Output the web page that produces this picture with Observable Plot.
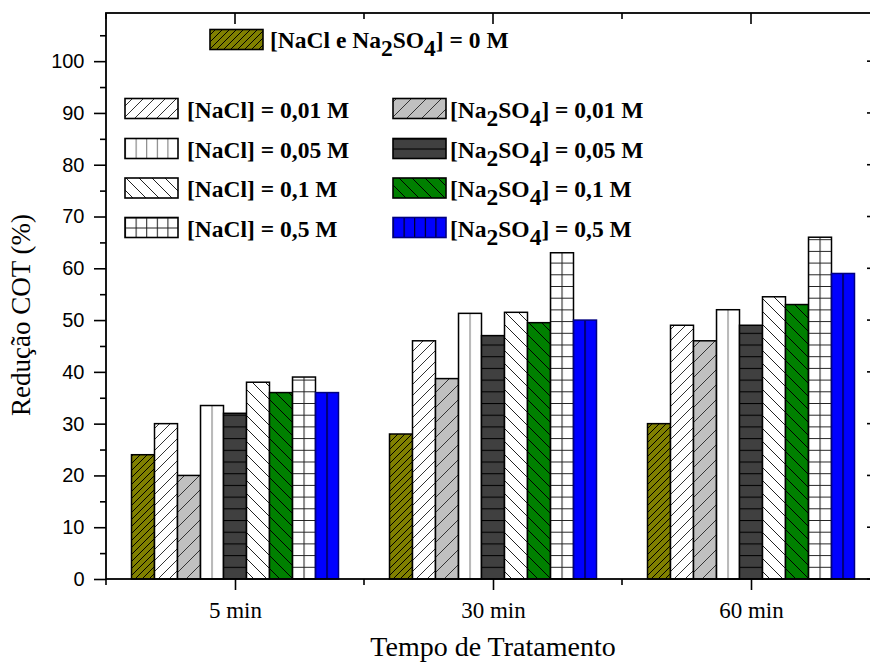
<!DOCTYPE html>
<html><head><meta charset="utf-8">
<script src="https://cdn.jsdelivr.net/npm/d3@7"></script>
<script src="https://cdn.jsdelivr.net/npm/@observablehq/plot@0.6"></script>
<style>html,body{margin:0;padding:0;background:#fff;overflow:hidden;width:870px;height:665px}
#chart svg{display:block}</style>
</head><body><div id="chart"></div>
<script>
// ---- data ----
const times = ["5 min", "30 min", "60 min"];
const seriesKeys = ["zero", "NaCl 0,01", "Na2SO4 0,01", "NaCl 0,05", "Na2SO4 0,05", "NaCl 0,1", "Na2SO4 0,1", "NaCl 0,5", "Na2SO4 0,5"];
const vZero       = [24, 28, 30];
const vNaCl001    = [30, 46, 49];
const vNa2SO4001  = [20, 38.7, 46];
const vNaCl005    = [33.5, 51.3, 52];
const vNa2SO4005  = [32, 47, 49];
const vNaCl01     = [38, 51.5, 54.5];
const vNa2SO401   = [36, 49.5, 53];
const vNaCl05     = [39, 63, 66];
const vNa2SO405   = [36, 50, 59];
const seriesValues = [vZero, vNaCl001, vNa2SO4001, vNaCl005, vNa2SO4005, vNaCl01, vNa2SO401, vNaCl05, vNa2SO405];
const legendLabels = ["[NaCl e Na_2SO_4] = 0 M", "[NaCl] = 0,01 M", "[Na_2SO_4] = 0,01 M", "[NaCl] = 0,05 M", "[Na_2SO_4] = 0,05 M", "[NaCl] = 0,1 M", "[Na_2SO_4] = 0,1 M", "[NaCl] = 0,5 M", "[Na_2SO_4] = 0,5 M"];
const yTicks = [0, 10, 20, 30, 40, 50, 60, 70, 80, 90, 100];
const yMinorTicks = [5, 15, 25, 35, 45, 55, 65, 75, 85, 95, 105];
const yMax = 109.3;
const xTitle = "Tempo de Tratamento";
const yTitle = "Redução COT (%)";

// ---- styles ----
const patStyles = [
  {bg: "#808000", type: "diagF", s: 7, line: "#000"},
  {bg: "#ffffff", type: "diagF", s: 11, line: "#333"},
  {bg: "#c0c0c0", type: "diagF", s: 15, line: "#333"},
  {bg: "#ffffff", type: "vert", line: "#777"},
  {bg: "#404040", type: "horiz", line: "#000"},
  {bg: "#ffffff", type: "diagB", s: 13, line: "#222"},
  {bg: "#008000", type: "diagB", s: 13, line: "#000"},
  {bg: "#ffffff", type: "grid", line: "#222"},
  {bg: "#0000ff", type: "vert", line: "#000"}
];
const strokes = ["#000", "#000", "#000", "#000", "#000", "#000", "#000", "#000", "#000080"];

const rows = [];
seriesKeys.forEach((k, i) => times.forEach((t, j) => rows.push({time: t, series: k, value: seriesValues[i][j]})));

const serif = "Liberation Serif";
const sans = "Liberation Sans";

const chart = Plot.plot({
  width: 884, height: 665,
  marginLeft: 106, marginRight: 4, marginTop: 13, marginBottom: 86,
  style: {background: "#fff", color: "#000", maxWidth: "none"},
  fx: {domain: times, padding: 0, round: false, label: null},
  x: {domain: seriesKeys, paddingInner: 0, paddingOuter: 1.1087, round: false, axis: null},
  y: {domain: [0, yMax]},
  marks: [
    ...seriesKeys.map((k, i) => Plot.barY(rows.filter(d => d.series === k), {
      fx: "time", x: "series", y: "value", fill: `url(#pat${i})`,
      stroke: strokes[i], strokeWidth: 1.5, inset: 0
    })),
    Plot.axisY(yTicks, {anchor: "left", tickSize: 12, tickPadding: 10, fontSize: 20, fontFamily: sans, label: null, strokeWidth: 1.6}),
    Plot.axisY(yMinorTicks, {anchor: "left", tickSize: 6, tickFormat: () => "", label: null, strokeWidth: 1.6}),
    Plot.axisFx({anchor: "bottom", tickSize: 11, tickPadding: 11, fontSize: 23, fontFamily: serif, label: null, strokeWidth: 1.6})
  ]
});
chart.style.maxWidth = "none";
document.getElementById("chart").appendChild(chart);

const svg = d3.select(chart);
const fxS = chart.scale("fx");
const yS = chart.scale("y");
const x0 = fxS.range[0], x1 = fxS.range[1];
const yB = yS.apply(0), yT = yS.apply(yMax);
const bw = fxS.bandwidth;

// ---- patterns ----
const defs = svg.insert("defs", ":first-child");
function makePattern(id, st, ox, oy, sx, sy) {
  let p;
  if (st.type === "diagF" || st.type === "diagB") {
    const s = st.s;
    p = defs.append("pattern").attr("id", id).attr("patternUnits", "userSpaceOnUse").attr("width", s).attr("height", s);
    p.append("rect").attr("width", s).attr("height", s).attr("fill", st.bg);
    const d = st.type === "diagF"
      ? `M0,${s}L${s},0M${-s/4},${s/4}L${s/4},${-s/4}M${3*s/4},${5*s/4}L${5*s/4},${3*s/4}`
      : `M0,0L${s},${s}M${-s/4},${3*s/4}L${s/4},${5*s/4}M${3*s/4},${-s/4}L${5*s/4},${s/4}`;
    p.append("path").attr("d", d).attr("stroke", st.line).attr("stroke-width", 1).attr("fill", "none");
  } else {
    const w = st.type === "horiz" ? 10 : sx;
    const h = st.type === "vert" ? 10 : sy;
    p = defs.append("pattern").attr("id", id).attr("patternUnits", "userSpaceOnUse")
      .attr("x", ox).attr("y", oy).attr("width", w).attr("height", h);
    p.append("rect").attr("width", w).attr("height", h).attr("fill", st.bg);
    let d = "";
    if (st.type === "vert" || st.type === "grid") d += `M0.5,0V${h}`;
    if (st.type === "horiz" || st.type === "grid") d += `M0,0.5H${w}`;
    p.append("path").attr("d", d).attr("stroke", st.line).attr("stroke-width", 1.1).attr("fill", "none");
  }
}
patStyles.forEach((st, i) => {
  const r = svg.select(`g[fill="url(#pat${i})"] rect`);
  let ox = 0, oy = 0, sx = 11.5;
  if (!r.empty()) {
    const rx = +r.attr("x"), rw = +r.attr("width"), ry = +r.attr("y"), rh = +r.attr("height");
    sx = rw / 2; ox = rx + rw / 2 - 0.5; oy = ry + rh - 0.5;
  }
  makePattern(`pat${i}`, st, ox, oy, sx, 11.7);
});

// ---- frame and extra ticks ----
const g = svg.append("g").attr("stroke", "#000").attr("fill", "none").attr("stroke-width", 1.6);
g.append("rect").attr("x", x0).attr("y", yT).attr("width", x1 - x0).attr("height", yB - yT).attr("stroke-width", 1.8);
const bounds = times.map(t => fxS.apply(t)).concat([x1]);
bounds.forEach(b => {
  g.append("line").attr("x1", b).attr("x2", b).attr("y1", yB).attr("y2", yB + 6);
  g.append("line").attr("x1", b).attr("x2", b).attr("y1", yT).attr("y2", yT + 6);
});
times.forEach(t => {
  const c = fxS.apply(t) + bw / 2;
  g.append("line").attr("x1", c).attr("x2", c).attr("y1", yT).attr("y2", yT + 11);
});
yTicks.forEach(v => g.append("line").attr("x1", x1).attr("x2", x1 - 13).attr("y1", yS.apply(v)).attr("y2", yS.apply(v)));
yMinorTicks.forEach(v => g.append("line").attr("x1", x1).attr("x2", x1 - 6).attr("y1", yS.apply(v)).attr("y2", yS.apply(v)));

// ---- titles ----
svg.append("text").attr("x", (x0 + 880) / 2).attr("y", 656).attr("text-anchor", "middle")
  .attr("font-family", serif).attr("font-size", 28).attr("fill", "#000").text(xTitle);
svg.append("text").attr("transform", `translate(30,315) rotate(-90)`).attr("text-anchor", "middle")
  .attr("font-family", serif).attr("font-size", 27).attr("fill", "#000").text(yTitle);

// ---- legend ----
function legendText(sel, label) {
  const parts = label.split(/(_\d)/).filter(s => s.length);
  let pending = 0;
  parts.forEach(pt => {
    if (pt.startsWith("_")) {
      sel.append("tspan").attr("dy", 8 - pending).text(pt.slice(1));
      pending = 8;
    } else {
      const ts = sel.append("tspan").text(pt);
      if (pending) ts.attr("dy", -pending);
      pending = 0;
    }
  });
}
const legendPos = [
  {sx: 210, sy: 29.5, tx: 270, ty: 48},
  {sx: 125, sy: 98.5, tx: 187, ty: 117.5},
  {sx: 393, sy: 98.5, tx: 450, ty: 117.5},
  {sx: 125, sy: 138.5, tx: 187, ty: 157.5},
  {sx: 393, sy: 138.5, tx: 450, ty: 157.5},
  {sx: 125, sy: 178, tx: 187, ty: 197},
  {sx: 393, sy: 178, tx: 450, ty: 197},
  {sx: 125, sy: 217.5, tx: 187, ty: 236.5},
  {sx: 393, sy: 217.5, tx: 450, ty: 236.5}
];
const SW = 53, SH = 20;
const lg = svg.append("g").attr("text-anchor", "start");
legendLabels.forEach((lab, i) => {
  const p = legendPos[i];
  makePattern(`leg${i}`, patStyles[i], p.sx, p.sy + SH, 10.6, 10);
  lg.append("rect").attr("x", p.sx).attr("y", p.sy).attr("width", SW).attr("height", SH)
    .attr("fill", `url(#leg${i})`).attr("stroke", strokes[i]).attr("stroke-width", 1.6);
  const t = lg.append("text").attr("x", p.tx).attr("y", p.ty).attr("font-family", serif)
    .attr("text-anchor", "start").attr("font-weight", "bold").attr("font-size", 23.5).attr("fill", "#000");
  legendText(t, lab);
});
</script></body></html>
